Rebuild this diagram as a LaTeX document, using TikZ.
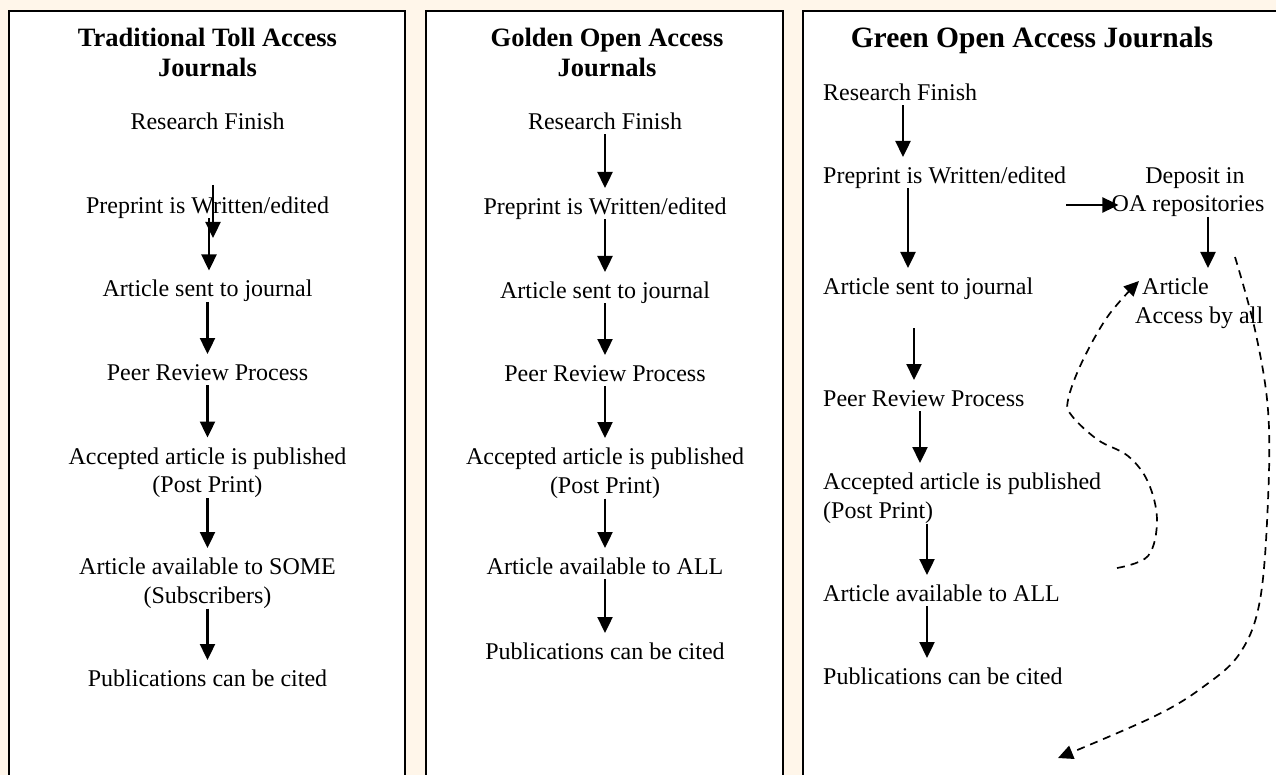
\documentclass[tikz,border=0pt]{standalone}
\usepackage{fontspec}
\setmainfont{Liberation Serif}
\usetikzlibrary{arrows.meta}
\definecolor{cream}{RGB}{255,246,234}
\begin{document}
\begin{tikzpicture}[x=1pt,y=-1pt,
  frame/.style={draw=black,line width=2.2pt,fill=white},
  ttl/.style={anchor=north,inner sep=0pt,align=center,font=\fontsize{26.5}{30}\selectfont\bfseries},
  lbl/.style={anchor=north,inner sep=0pt,align=center,font=\fontsize{24}{28.5}\selectfont},
  one/.style={text height=16pt,text depth=5pt},
  lblw/.style={lbl,anchor=north west,align=left},
  arr/.style={-{Triangle[width=15pt,length=16pt]},line width=2.4pt,shorten >=10pt},
  darr/.style={-{Triangle[width=14pt,length=15pt]},line width=1.7pt,dash pattern=on 8pt off 6pt}
]
\useasboundingbox (0,0) rectangle (1276,775);
\clip (0,0) rectangle (1276,775);
\fill[cream] (0,0) rectangle (1276,775);
\draw[frame] (9,11) rectangle (405,800);
\draw[frame] (426,11) rectangle (783,800);
\draw[frame] (803,11) rectangle (1300,800);

% ---- Box 1: Traditional ----
\node[ttl] (t1) at (207.5,28) {Traditional Toll Access\\Journals};
\node[lbl,one] (rf1) at (207.5,113) {Research Finish};
\node[lbl,one] (pre1) at (207.5,197) {Preprint is Written/edited};
\node[lbl,one] (art1) at (207.5,280.5) {Article sent to journal};
\node[lbl,one] (peer1) at (207.5,364) {Peer Review Process};
\node[lbl] (acc1) at (207.5,447.5) {Accepted article is published\\(Post Print)};
\node[lbl] (av1) at (207.5,558) {Article available to SOME\\(Subscribers)};
\node[lbl,one] (pub1) at (207.5,670) {Publications can be cited};

\coordinate (sa) at (213,185);
\coordinate (sb) at (213,238);
\draw[arr,shorten >=0pt] (sa) -- (sb);
\draw[arr] (pre1.south -| 209,0) -- (art1.north -| 209,0);
\draw[arr] (art1.south) -- (peer1.north);
\draw[arr] (peer1.south) -- (acc1.north);
\draw[arr] (acc1.south) -- (av1.north);
\draw[arr] (av1.south) -- (pub1.north);

% ---- Box 2: Golden ----
\node[ttl] (t2) at (607,28) {Golden Open Access\\Journals};
\node[lbl,one] (rf2) at (605,113) {Research Finish};
\node[lbl,one] (pre2) at (605,198) {Preprint is Written/edited};
\node[lbl,one] (art2) at (605,282) {Article sent to journal};
\node[lbl,one] (peer2) at (605,365) {Peer Review Process};
\node[lbl] (acc2) at (605,448) {Accepted article is published\\(Post Print)};
\node[lbl,one] (av2) at (605,558) {Article available to ALL};
\node[lbl,one] (pub2) at (605,643) {Publications can be cited};

\draw[arr] (rf2.south) -- (pre2.north);
\draw[arr] (pre2.south) -- (art2.north);
\draw[arr] (art2.south) -- (peer2.north);
\draw[arr] (peer2.south) -- (acc2.north);
\draw[arr] (acc2.south) -- (av2.north);
\draw[arr] (av2.south) -- (pub2.north);

% ---- Box 3: Green ----
\node[ttl,font=\fontsize{29.5}{33}\selectfont\bfseries] (t3) at (1032,27) {Green Open Access Journals};
\node[lblw,one] (rf3) at (823,84) {Research Finish};
\node[lblw,one] (pre3) at (823,167) {Preprint is Written/edited};
\node[lbl] (dep) at (1188,167) {\hspace*{14pt}Deposit in\\OA repositories};
\node[lblw,one] (art3) at (823,278) {Article sent to journal};
\node[lblw] (aa) at (1135,278) {\hspace{7pt}Article\\Access by all};
\node[lblw,one] (peer3) at (823,390) {Peer Review Process};
\node[lblw] (acc3) at (823,473) {Accepted article is published\\(Post Print)};
\node[lblw,one] (av3) at (823,585) {Article available to ALL};
\node[lblw,one] (pub3) at (823,668) {Publications can be cited};

\draw[arr] (rf3.south -| 903,0) -- (pre3.north -| 903,0);
\draw[arr] (pre3.south -| 908,0) -- (art3.north -| 908,0);
\draw[arr,shorten <=29pt] (art3.south -| 914,0) -- (peer3.north -| 914,0);
\draw[arr] (peer3.south -| 920,0) -- (acc3.north -| 920,0);
\draw[arr] (acc3.south -| 927,0) -- (av3.north -| 927,0);
\draw[arr] (av3.south -| 927,0) -- (pub3.north -| 927,0);
\draw[arr,shorten >=-7pt] (pre3.east |- 0,205) -- (dep.west |- 0,205);
\draw[arr] (dep.south -| 1208,0) -- (aa.north -| 1208,0);

\coordinate (d1s) at (1117,568);
\coordinate (d1e) at (1139,281);
\draw[darr] plot[smooth,tension=0.6] coordinates {(d1s) (1148,556) (1157,520) (1148,482) (1128,456) (1098,440) (1072,416) (1068,400) (1082,362) (1108,316) (d1e)};
\coordinate (d2s) at (1235,257);
\coordinate (d2e) at (1058,758);
\draw[darr] plot[smooth,tension=0.6] coordinates {(d2s) (1255,330) (1268,410) (1268,500) (1260,600) (1240,653) (1203,687) (1153,717) (d2e)};
\end{tikzpicture}
\end{document}
